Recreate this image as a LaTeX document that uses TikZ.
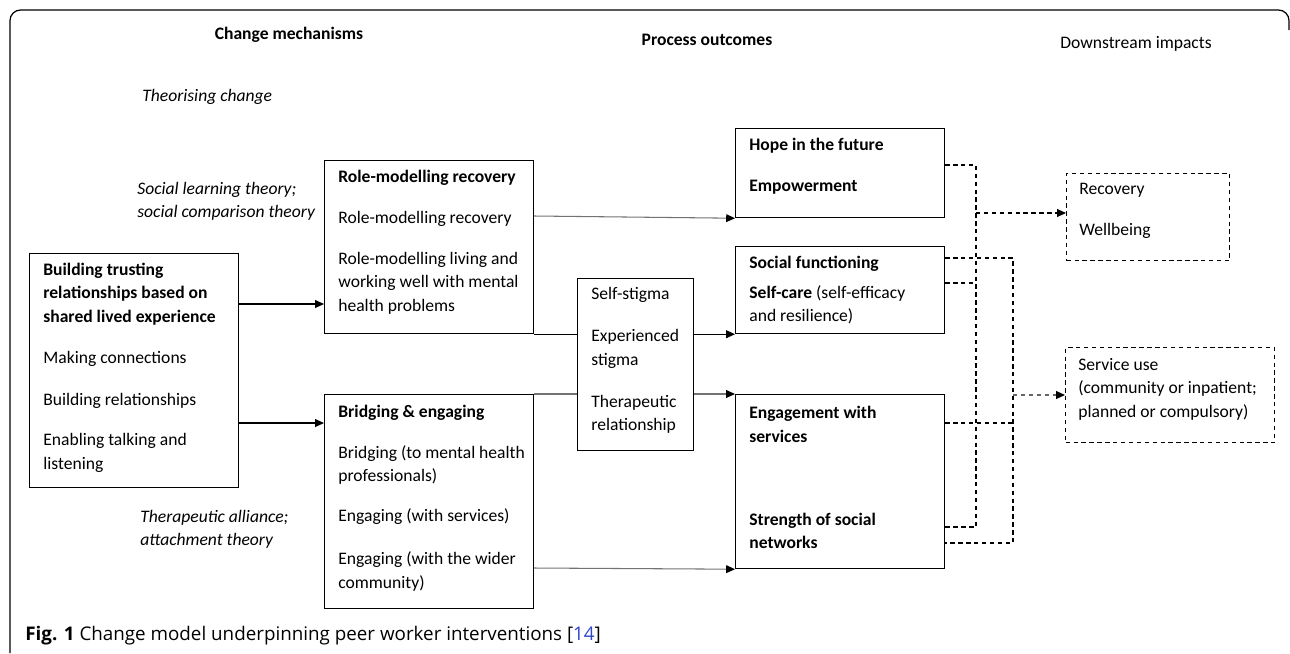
\documentclass[tikz,border=0pt]{standalone}
\usepackage{fontspec}
\setmainfont{Carlito}
\newfontfamily\capfont{Open Sans}
\usetikzlibrary{positioning,arrows.meta}
\definecolor{refblue}{RGB}{45,70,210}
\newcommand\diafont{\fontsize{10}{13.3}\selectfont}
\tikzset{
  box/.style={draw,line width=0.7pt,anchor=north west,inner sep=0pt},
  dbox/.style={box,dash pattern=on 2.5pt off 2pt},
  txt/.style={right,inner sep=0pt,align=left,font=\diafont},
  ittxt/.style={txt,font=\diafont\itshape},
  bftxt/.style={txt,font=\diafont\bfseries},
  conn/.style={line width=0.6pt},
  gconn/.style={conn,black!55,-{Triangle[length=5pt,width=4.4pt,color=black]}},
  dconn/.style={line width=0.6pt,dash pattern=on 2.5pt off 2pt}
}
\begin{document}
\begin{tikzpicture}[x=0.02cm,y=-0.02cm,>={Triangle[length=5pt,width=4.4pt]}]
\useasboundingbox (0,0) rectangle (1290,653);
\draw[line width=0.7pt,rounded corners=6pt] (10,653) -- (10,10) -- (1289,10) -- (1289,30);

\node[font=\diafont\bfseries] (hcm) at (289,35) {Change mechanisms};
\node[font=\diafont\bfseries] (hpo) at (707,40) {Process outcomes};
\node[font=\diafont] (hdi) at (1136,44) {Downstream impacts};

\node[ittxt] (th) at (142,97) {Theorising change};
\node[ittxt] (slt) at (137,201.5) {Social learning theory;\\social comparison theory};
\node[ittxt] (tat) at (140,529.5) {Therapeutic alliance;\\attachment theory};

\node[box,minimum width=4.18cm,minimum height=4.68cm] (btr) at (29,253) {};
\node[bftxt] (btr1) at (43,294) {Building trusting\\relationships based on\\shared lived experience};
\node[txt] (btr2) at (43,359) {Making connections};
\node[txt] (btr3) at (43,401) {Building relationships};
\node[txt] (btr4) at (43,453) {Enabling talking and\\listening};

\node[box,minimum width=4.18cm,minimum height=3.46cm] (rmr) at (324,160) {};
\node[bftxt] (rmr1) at (338,178) {Role-modelling recovery};
\node[txt] (rmr2) at (338,219) {Role-modelling recovery};
\node[txt] (rmr3) at (338,283) {Role-modelling living and\\working well with mental\\health problems};

\node[box,minimum width=4.18cm,minimum height=4.28cm] (bre) at (324,394) {};
\node[bftxt] (bre1) at (338,413) {Bridging \& engaging};
\node[txt] (bre2) at (338,465) {Bridging (to mental health\\professionals)};
\node[txt] (bre3) at (338,517) {Engaging (with services)};
\node[txt] (bre4) at (338,571.5) {Engaging (with the wider\\community)};

\node[box,minimum width=2.32cm,minimum height=3.44cm] (stg) at (577,278) {};
\node[txt] (stg1) at (591,295) {Self-stigma};
\node[txt] (stg2) at (591,349) {Experienced\\stigma};
\node[txt] (stg3) at (591,414) {Therapeutic\\relationship};

\node[box,minimum width=4.18cm,minimum height=1.78cm] (hop) at (735,128) {};
\node[bftxt] (hop1) at (749,146) {Hope in the future};
\node[bftxt] (hop2) at (749,187) {Empowerment};

\node[box,minimum width=4.18cm,minimum height=1.74cm] (sfn) at (735,246) {};
\node[bftxt] (sfn1) at (749,264) {Social functioning};
\node[txt] (sfn2) at (749,305) {\textbf{Self-care} (self-efficacy\\and resilience)};

\node[box,minimum width=4.18cm,minimum height=3.48cm] (egs) at (735,394) {};
\node[bftxt] (egs1) at (749,424.5) {Engagement with\\services};
\node[bftxt] (egs2) at (749,531) {Strength of social\\networks};

\node[dbox,minimum width=3.26cm,minimum height=1.74cm] (rec) at (1066,173) {};
\node[txt] (rec1) at (1079,190) {Recovery};
\node[txt] (rec2) at (1079,231) {Wellbeing};

\node[dbox,minimum width=4.18cm,minimum height=1.9cm] (svc) at (1065,347) {};
\node[txt] (svc1) at (1078,389) {Service use\\(community or inpatient;\\planned or compulsory)};

\draw[conn,->] (btr.east |- 0,304) -- (rmr.west |- 0,304);
\draw[conn,->] (btr.east |- 0,423) -- (bre.west |- 0,423);
\draw[gconn] (rmr.east |- 0,216) -- (hop.south west);
\draw[conn] (rmr.south east) -- (stg.west |- rmr.south east);
\draw[conn,->] (stg.east |- sfn.south west) -- (sfn.south west);
\draw[conn,black!55] (bre.north east) -- (stg.west |- bre.north east);
\draw[gconn] (stg.east |- egs.north west) -- (egs.north west);
\draw[gconn] (bre.east |- 0,568) -- (egs.south west);

\coordinate (j1) at (976,213);
\coordinate (j2) at (1013,395);
\draw[dconn] (hop.east |- 0,165) -| (j1) |- (egs.east |- 0,527);
\draw[dconn] (sfn.east |- 0,283) -- (j1 |- 0,283);
\draw[dconn,->] (j1) -- (rec.west |- j1);
\draw[dconn] (sfn.east |- 0,258) -| (j2) |- (egs.east |- 0,543);
\draw[dconn] (egs.east |- 0,423) -- (j2 |- 0,423);
\draw[dconn,black!60,-{Triangle[length=5pt,width=4.4pt,color=black]}] (j2) -- (svc.west |- j2);

\node[right,inner sep=0pt,font=\capfont\fontsize{10.7}{12}\selectfont] (cap) at (25,636) {\textbf{Fig. 1} Change model underpinning peer worker interventions [\textcolor{refblue}{14}]};
\end{tikzpicture}
\end{document}
